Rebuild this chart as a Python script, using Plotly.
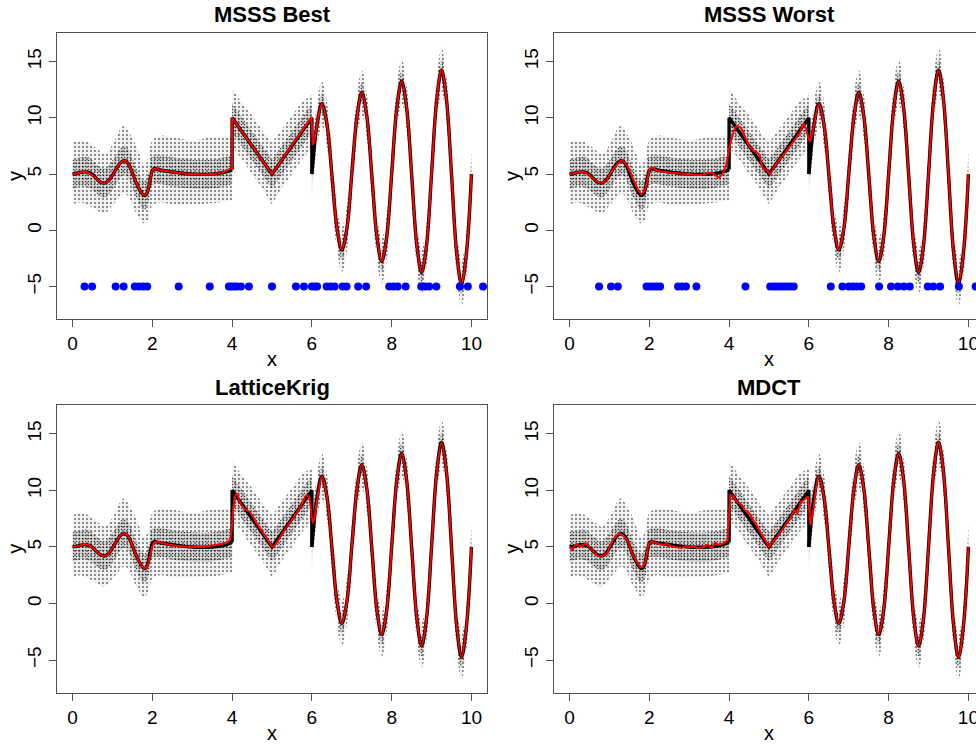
import plotly.graph_objects as go

# ---------------- underlying signal (black) ----------------
sig_a_x = [0, 0.1, 0.2, 0.3, 0.4, 0.5, 0.6, 0.7, 0.8, 0.9, 1.0, 1.1, 1.2, 1.3, 1.4, 1.5,
           1.6, 1.7, 1.8, 1.85, 1.9, 1.95, 2.0, 2.05, 2.1, 2.3, 2.6, 3.0, 3.5, 3.8, 4.0]
sig_a_y = [5.0, 5.05, 5.15, 5.2, 5.15, 4.95, 4.6, 4.3, 4.2, 4.4, 4.9, 5.5, 6.0, 6.2, 5.9, 5.1,
           4.2, 3.5, 3.1, 3.2, 3.7, 4.6, 5.3, 5.5, 5.45, 5.3, 5.15, 5.0, 5.0, 5.15, 5.4]
sig_b_x = [4.0, 4.0, 5.0, 6.0, 6.0]
sig_b_y = [5.4, 10.0, 5.0, 10.0, 5.0]
wave_x = [6.0, 6.125, 6.25, 6.375, 6.5, 6.625, 6.75, 6.875, 7.0, 7.125, 7.25, 7.375, 7.5,
          7.625, 7.75, 7.875, 8.0, 8.125, 8.25, 8.375, 8.5, 8.625, 8.75, 8.875, 9.0, 9.125,
          9.25, 9.375, 9.5, 9.625, 9.75, 9.875, 10.0]
wave_y = [5.0, 9.3, 11.25, 9.5, 5.0, 0.3, -1.75, 0.1, 5.0, 9.95, 12.25, 10.2, 5.0,
          -0.4, -2.75, -0.6, 5.0, 10.75, 13.25, 10.9, 5.0, -1.1, -3.75, -1.3, 5.0, 11.45,
          14.25, 11.6, 5.0, -1.8, -4.75, -2.0, 5.0]

# ---------------- noisy observations: envelope of the point cloud ----------------
cloud1_x = [0, 0.2, 0.4, 0.6, 0.8, 1.0, 1.2, 1.3, 1.4, 1.6, 1.8, 1.9, 2.0, 2.2, 2.5, 3.0, 3.5, 4.0]
cloud1_lo = [2.3, 2.5, 2.2, 1.8, 1.5, 2.2, 3.0, 3.3, 3.0, 1.5, 0.6, 1.0, 2.2, 2.5, 2.3, 2.3, 2.4, 2.7]
cloud1_hi = [7.8, 8.0, 7.8, 7.3, 6.8, 7.6, 9.0, 9.3, 8.8, 7.5, 5.8, 6.5, 8.0, 8.4, 8.3, 8.0, 8.3, 8.4]
core1_lo = [3.7, 3.9, 3.8, 3.3, 2.9, 3.6, 4.7, 4.9, 4.6, 2.9, 1.8, 2.4, 4.0, 4.1, 3.9, 3.7, 3.7, 4.1]
core1_hi = [6.3, 6.5, 6.5, 5.9, 5.5, 6.2, 7.3, 7.5, 7.2, 5.5, 4.4, 5.0, 6.6, 6.7, 6.5, 6.3, 6.3, 6.7]

cloud2_x = [4.0, 4.25, 4.5, 4.75, 5.0, 5.25, 5.5, 5.75, 6.0]
cloud2_lo = [7.4, 6.3, 5.0, 3.8, 2.3, 3.8, 5.0, 6.3, 7.2]
cloud2_hi = [12.6, 11.3, 10.2, 8.9, 7.8, 9.0, 10.2, 11.4, 12.0]
core2_lo = [8.7, 7.45, 6.2, 4.95, 3.7, 4.95, 6.2, 7.45, 8.7]
core2_hi = [11.3, 10.05, 8.8, 7.55, 6.3, 7.55, 8.8, 10.05, 11.3]

cloud3_lo = [3.0, 7.3, 9.25, 7.5, 3.0, -1.7, -3.75, -1.9, 3.0, 7.95, 10.25, 8.2, 3.0,
             -2.4, -4.75, -2.6, 3.0, 8.75, 11.25, 8.9, 3.0, -3.1, -5.75, -3.3, 3.0, 9.45,
             12.25, 9.6, 3.0, -3.8, -6.75, -4.0, 3.0]
cloud3_hi = [7.0, 11.3, 13.25, 11.5, 7.0, 2.3, 0.25, 2.1, 7.0, 11.95, 14.25, 12.2, 7.0,
             1.6, -0.75, 1.4, 7.0, 12.75, 15.25, 12.9, 7.0, 0.9, -1.75, 0.7, 7.0, 13.45,
             16.25, 13.6, 7.0, 0.2, -2.75, 0.0, 7.0]
core3_lo = [4.1, 8.4, 10.35, 8.6, 4.1, -0.6, -2.65, -0.8, 4.1, 9.05, 11.35, 9.3, 4.1,
            -1.3, -3.65, -1.5, 4.1, 9.85, 12.35, 10.0, 4.1, -2.0, -4.65, -2.2, 4.1, 10.55,
            13.35, 10.7, 4.1, -2.7, -5.65, -2.9, 4.1]
core3_hi = [5.9, 10.2, 12.15, 10.4, 5.9, 1.2, -0.85, 1.0, 5.9, 10.85, 13.15, 11.1, 5.9,
            0.5, -1.85, 0.3, 5.9, 11.65, 14.15, 11.8, 5.9, -0.2, -2.85, -0.4, 5.9, 12.35,
            15.15, 12.5, 5.9, -0.9, -3.85, -1.1, 5.9]

# ---------------- fitted curves (red) ----------------
best_a_x = [0, 0.1, 0.2, 0.3, 0.4, 0.5, 0.6, 0.7, 0.8, 0.9, 1.0, 1.1, 1.2, 1.3, 1.4, 1.5,
            1.6, 1.7, 1.8, 1.85, 1.9, 1.95, 2.0, 2.05, 2.1, 2.3, 2.6, 3.0, 3.5, 3.8, 3.95]
best_a_y = [5.0, 5.05, 5.15, 5.2, 5.1, 4.9, 4.6, 4.3, 4.2, 4.4, 4.9, 5.5, 6.0, 6.2, 5.9, 5.1,
            4.2, 3.5, 3.1, 3.2, 3.7, 4.6, 5.3, 5.5, 5.45, 5.3, 5.15, 5.0, 5.0, 5.2, 5.5]
best_b_x = [3.95, 4.0, 4.0, 4.1, 5.0, 5.9, 5.99, 6.02, 6.07]
best_b_y = [5.5, 5.5, 10.0, 9.5, 5.0, 9.6, 10.1, 7.6, 8.0]

worst_x = [0, 0.15, 0.3, 0.45, 0.6, 0.77, 0.9, 1.05, 1.3, 1.45, 1.6, 1.8, 1.9, 2.04, 2.2,
           2.5, 3.0, 3.28, 3.57, 3.74, 3.9, 4.03, 4.19, 4.3, 4.4, 4.53, 4.65, 4.76, 4.85,
           4.95, 5.01, 5.16, 5.32, 5.45, 5.66, 5.78, 5.87, 5.96, 6.03, 6.12]
worst_y = [5.0, 5.1, 5.2, 5.05, 4.6, 4.23, 4.4, 5.2, 6.2, 5.7, 4.5, 3.23, 3.7, 5.57, 5.3,
           5.15, 5.0, 4.92, 5.12, 4.7, 5.5, 7.7, 9.27, 9.07, 8.3, 7.37, 7.0, 6.7, 5.5,
           5.36, 5.0, 5.8, 6.55, 7.14, 8.1, 8.77, 9.5, 8.6, 7.9, 9.2]

lk_x = [0, 0.1, 0.2, 0.3, 0.4, 0.5, 0.6, 0.7, 0.8, 0.9, 1.0, 1.1, 1.2, 1.3, 1.4, 1.5, 1.6,
        1.7, 1.8, 1.87, 1.95, 2.03, 2.1, 2.3, 2.6, 3.0, 3.32, 3.57, 3.82, 3.94, 4.03, 4.11,
        4.19, 4.3, 4.44, 4.6, 4.8, 4.95, 5.03, 5.1, 5.3, 5.5, 5.74, 5.86, 5.92, 6.03, 6.12]
lk_y = [5.0, 5.05, 5.15, 5.25, 5.15, 4.95, 4.6, 4.3, 4.2, 4.4, 4.9, 5.5, 6.0, 6.2, 5.9, 5.1, 4.2,
        3.5, 3.1, 3.3, 4.3, 5.3, 5.45, 5.3, 5.1, 5.0, 5.02, 5.17, 5.32, 5.6, 8.4, 9.75,
        9.0, 8.4, 8.1, 7.2, 6.1, 5.3, 5.0, 5.3, 6.4, 7.4, 8.7, 9.55, 9.45, 7.1, 8.9]

mdct_x = [0, 0.08, 0.13, 0.18, 0.28, 0.41, 0.53, 0.62, 0.7, 0.82, 0.95, 1.07, 1.17, 1.26,
          1.4, 1.5, 1.57, 1.68, 1.78, 1.84, 1.9, 1.98, 2.07, 2.2, 2.32, 2.45, 2.55, 2.66,
          2.8, 2.9, 3.0, 3.1, 3.2, 3.33, 3.45, 3.57, 3.65, 3.74, 3.86, 3.96, 4.03, 4.1,
          4.17, 4.23, 4.32, 4.38, 4.45, 4.52, 4.6, 4.68, 4.75, 4.82, 4.88, 4.94, 5.0, 5.08,
          5.14, 5.21, 5.28, 5.35, 5.46, 5.55, 5.63, 5.71, 5.8, 5.86, 5.92, 5.98, 6.04, 6.12]
mdct_y = [4.96, 4.75, 5.15, 5.2, 5.05, 5.32, 4.85, 4.5, 4.23, 4.2, 4.5, 5.5, 6.0, 6.2,
          5.85, 5.2, 4.4, 3.7, 3.2, 3.25, 3.65, 5.25, 5.5, 5.3, 5.2, 5.25, 5.05, 5.0,
          4.9, 5.05, 4.97, 5.05, 4.9, 4.95, 5.17, 4.93, 5.4, 5.17, 5.32, 5.6, 9.6, 9.5,
          9.1, 8.9, 8.7, 8.3, 8.1, 7.9, 7.4, 7.0, 6.5, 6.1, 5.7, 5.4, 5.0, 5.4,
          5.6, 5.9, 6.3, 6.6, 7.2, 7.6, 8.26, 7.97, 9.0, 9.1, 9.3, 9.45, 6.95, 8.4]

# ---------------- selected knots (blue) ----------------
best_knots = [0.3, 0.49, 1.08, 1.28, 1.56, 1.67, 1.77, 1.87, 2.66, 3.44, 3.92, 3.98, 4.05,
              4.12, 4.22, 4.42, 5.0, 5.6, 5.8, 6.0, 6.07, 6.13, 6.37, 6.47, 6.57, 6.77,
              6.87, 7.16, 7.36, 7.94, 8.05, 8.15, 8.35, 8.74, 8.84, 8.94, 9.12, 9.71,
              9.91, 10.29]
worst_knots = [0.74, 1.04, 1.21, 1.93, 2.02, 2.1, 2.18, 2.27, 2.72, 2.82, 2.92, 3.18, 4.41,
               5.03, 5.12, 5.2, 5.28, 5.37, 5.45, 5.53, 5.62, 6.55, 6.84, 7.0, 7.1, 7.2,
               7.31, 7.76, 8.06, 8.23, 8.38, 8.53, 8.98, 9.12, 9.29, 9.76, 10.18]
knot_level = -5

titles = ["MSSS Best", "MSSS Worst", "LatticeKrig", "MDCT"]
x_ticks = [0, 2, 4, 6, 8, 10]
y_ticks = [-5, 0, 5, 10, 15]

# ---------------- page geometry ----------------
W, H = 976, 745
FONT = "Arial, Liberation Sans, sans-serif"
boxes = [  # (left, right, top, bottom) in pixels
    (57, 487, 33, 319),
    (554, 976, 33, 319),
    (57, 487, 405, 692.7),
    (554, 976, 405, 692.7),
]
x_ranges = [[-0.39, 10.39], [-0.39, 10.19], [-0.39, 10.39], [-0.39, 10.19]]
y_range = [-7.88, 17.54]

fig = go.Figure()


def add_line(xs, ys, color, width, shape, ax, smooth=1.0):
    fig.add_trace(go.Scatter(x=xs, y=ys, mode="lines", xaxis=ax[0], yaxis=ax[1],
                             line=dict(color=color, width=width, shape=shape,
                                       smoothing=smooth if shape == "spline" else None),
                             hoverinfo="skip", showlegend=False))


def add_band(xs, lo, hi, style, shape, ax):
    bg, dot_size, solidity, fg = style
    fig.add_trace(go.Scatter(x=xs, y=lo, mode="lines", xaxis=ax[0], yaxis=ax[1],
                             line=dict(width=0, color="rgba(0,0,0,0)", shape=shape),
                             hoverinfo="skip", showlegend=False))
    fig.add_trace(go.Scatter(x=xs, y=hi, mode="lines", xaxis=ax[0], yaxis=ax[1],
                             line=dict(width=0, color="rgba(0,0,0,0)", shape=shape),
                             fill="tonexty", fillcolor=bg,
                             fillpattern=dict(shape=".", size=dot_size, solidity=solidity,
                                              fgcolor=fg, bgcolor=bg, fillmode="replace"),
                             hoverinfo="skip", showlegend=False))


# stippled fill mimicking the scattered observations: (background, tile, solidity, dot colour)
OUTER = ("rgba(0,0,0,0.05)", 4, 0.16, "rgba(40,40,40,0.75)")
CORE = ("rgba(0,0,0,0.10)", 3, 0.22, "rgba(20,20,20,0.8)")
RED = "#ff0000"

for i in range(4):
    ax = ("x" if i == 0 else f"x{i+1}", "y" if i == 0 else f"y{i+1}")
    # observation cloud
    add_band(cloud1_x, cloud1_lo, cloud1_hi, OUTER, "spline", ax)
    add_band(cloud1_x, core1_lo, core1_hi, CORE, "spline", ax)
    add_band(cloud2_x, cloud2_lo, cloud2_hi, OUTER, "linear", ax)
    add_band(cloud2_x, core2_lo, core2_hi, CORE, "linear", ax)
    add_band(wave_x, cloud3_lo, cloud3_hi, OUTER, "spline", ax)
    add_band(wave_x, core3_lo, core3_hi, CORE, "spline", ax)
    # true signal
    add_line(sig_a_x, sig_a_y, "black", 3.4, "spline", ax)
    add_line(sig_b_x, sig_b_y, "black", 3.4, "linear", ax)
    add_line(wave_x, wave_y, "black", 3.4, "spline", ax)
    # fitted curve
    if i == 0:
        add_line(best_a_x, best_a_y, RED, 2.0, "spline", ax)
        add_line(best_b_x, best_b_y, RED, 2.0, "linear", ax)
        add_line([best_b_x[-1]] + wave_x[1:], [best_b_y[-1]] + wave_y[1:], RED, 2.0, "spline", ax)
    elif i == 1:
        add_line(worst_x + wave_x[2:], worst_y + wave_y[2:], RED, 2.0, "spline", ax, 0.9)
    elif i == 2:
        add_line(lk_x + wave_x[2:], lk_y + wave_y[2:], RED, 2.0, "spline", ax, 0.9)
    else:
        add_line(mdct_x, mdct_y, RED, 2.0, "linear", ax)
        add_line([mdct_x[-1]] + wave_x[2:], [mdct_y[-1]] + wave_y[2:], RED, 2.0, "spline", ax)
    # knots
    if i < 2:
        kn = best_knots if i == 0 else worst_knots
        fig.add_trace(go.Scatter(x=kn, y=[knot_level] * len(kn), mode="markers",
                                 xaxis=ax[0], yaxis=ax[1],
                                 marker=dict(color="#0000ff", size=8, line=dict(width=0)),
                                 hoverinfo="skip", showlegend=False))

layout = dict(width=W, height=H, margin=dict(l=0, r=0, t=0, b=0),
              paper_bgcolor="white", plot_bgcolor="white", showlegend=False)
annotations = []
for i, (l, r, t, b) in enumerate(boxes):
    xk = "xaxis" if i == 0 else f"xaxis{i+1}"
    yk = "yaxis" if i == 0 else f"yaxis{i+1}"
    anchor_x = "y" if i == 0 else f"y{i+1}"
    anchor_y = "x" if i == 0 else f"x{i+1}"
    right_cut = i in (1, 3)
    layout[xk] = dict(domain=[l / W, r / W], range=x_ranges[i], anchor=anchor_x,
                      showgrid=False, zeroline=False, showline=True, linecolor="#505050",
                      linewidth=1.3, mirror=True, ticks="outside", ticklen=7, tickwidth=1.3,
                      tickcolor="#505050", tickvals=x_ticks, automargin=False,
                      ticklabeloverflow="allow",
                      tickfont=dict(family=FONT, size=19, color="black"))
    layout[yk] = dict(domain=[(H - b) / H, (H - t) / H], range=y_range, anchor=anchor_y,
                      showgrid=False, zeroline=False, showline=True, linecolor="#505050",
                      linewidth=1.3, mirror=not right_cut, ticks="outside", ticklen=7,
                      tickwidth=1.3, tickcolor="#505050", tickvals=y_ticks, tickangle=-90,
                      automargin=False, tickfont=dict(family=FONT, size=19, color="black"))
    cx = (l + (430 if right_cut else (r - l)) / 2) / W
    annotations.append(dict(text=f"<b>{titles[i]}</b>", x=cx, y=(H - (t - 18)) / H,
                            xref="paper", yref="paper", xanchor="center", yanchor="middle",
                            showarrow=False, font=dict(family=FONT, size=22, color="black")))
    annotations.append(dict(text="x", x=cx, y=(H - (b + 40)) / H, xref="paper", yref="paper",
                            xanchor="center", yanchor="middle", showarrow=False,
                            font=dict(family=FONT, size=20, color="black")))
    annotations.append(dict(text="y", x=(l - 42) / W, y=(H - (t + b) / 2) / H, xref="paper",
                            yref="paper", xanchor="center", yanchor="middle", textangle=-90,
                            showarrow=False, font=dict(family=FONT, size=20, color="black")))
layout["annotations"] = annotations
fig.update_layout(**layout)
fig.write_html("out.html")
